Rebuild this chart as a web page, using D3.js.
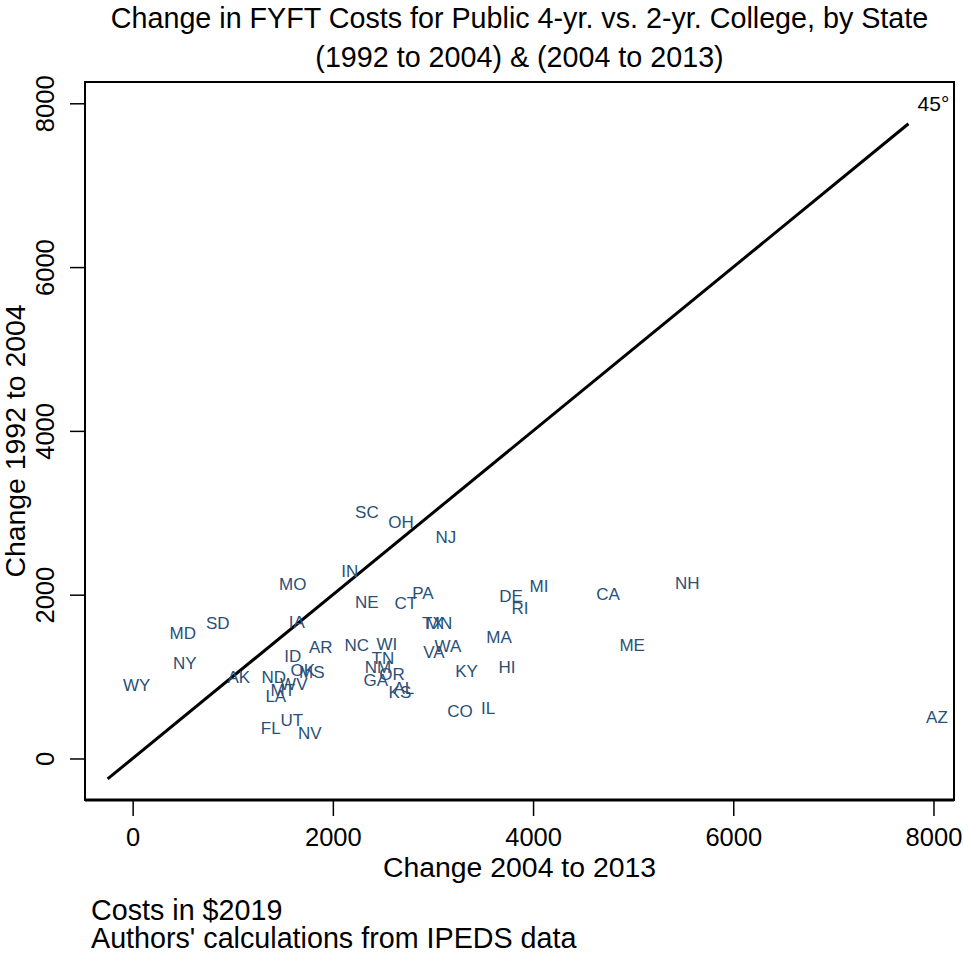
<!DOCTYPE html>
<html>
<head>
<meta charset="utf-8">
<script src="https://cdn.jsdelivr.net/npm/d3@7"></script>
<style>
html,body{margin:0;padding:0;background:#fff;}
svg{display:block;}
text{font-family:"Liberation Sans",Arial,Helvetica,sans-serif;}
</style>
</head>
<body>
<svg id="chart" width="963" height="953"></svg>
<script>
const states = ["WY","NY","MD","SD","AK","MO","IA","ID","AR","OK","MS","ND","WV","MT","LA","FL","UT","NV",
  "IN","SC","OH","NJ","NE","CT","PA","TX","MN","NC","WI","TN","NM","OR","GA","KS","AL","VA","WA","KY",
  "CO","IL","MA","HI","DE","RI","MI","CA","NH","ME","AZ"];
const change2004to2013 = [40,520,500,850,1060,1600,1640,1600,1880,1700,1790,1410,1610,1500,1430,1380,1590,1770,
  2170,2340,2680,3130,2340,2730,2900,3000,3060,2240,2540,2500,2450,2590,2430,2670,2710,3010,3150,3335,
  3270,3550,3660,3740,3780,3870,4060,4750,5540,4990,8035];
const change1992to2004 = [900,1170,1530,1650,995,2130,1665,1250,1360,1080,1055,995,910,835,765,370,470,310,
  2290,3010,2890,2705,1910,1900,2020,1655,1655,1385,1400,1225,1115,1030,960,810,860,1300,1375,1070,
  580,615,1485,1115,1985,1840,2105,2010,2145,1385,505];
const xTicks = [0,2000,4000,6000,8000];
const yTicks = [0,2000,4000,6000,8000];
const diagonal = [-250, 7750];
const titleLines = ["Change in FYFT Costs for Public 4-yr. vs. 2-yr. College, by State","(1992 to 2004) & (2004 to 2013)"];
const xLabel = "Change 2004 to 2013";
const yLabel = "Change 1992 to 2004";
const notes = ["Costs in $2019","Authors' calculations from IPEDS data"];

const svg = d3.select("#chart");
const L = 85, R = 954, T = 82, B = 800;
const x = d3.scaleLinear().domain([-476, 8205]).range([L, R]);
const y = d3.scaleLinear().domain([-507, 8260]).range([B, T]);
const labelColor = "#2a5078";

// title
svg.selectAll("text.title").data(titleLines).enter().append("text")
  .attr("class","title")
  .attr("x", (L+R)/2).attr("y", (d,i)=> 28 + i*39)
  .attr("text-anchor","middle").attr("font-size", 28.7).attr("fill","#000")
  .text(d=>d);

// diagonal 45 degree line
svg.append("line")
  .attr("x1", x(diagonal[0])).attr("y1", y(diagonal[0]))
  .attr("x2", x(diagonal[1])).attr("y2", y(diagonal[1]))
  .attr("stroke","#000").attr("stroke-width",3);
svg.append("text")
  .attr("x", x(8000)).attr("y", y(8000)).attr("dy","0.36em")
  .attr("text-anchor","middle").attr("font-size",21).attr("fill","#000")
  .text("45°");

// state labels
svg.append("g").selectAll("text").data(states).enter().append("text")
  .attr("x", (d,i)=> x(change2004to2013[i]))
  .attr("y", (d,i)=> y(change1992to2004[i]))
  .attr("dy","0.36em")
  .attr("text-anchor","middle").attr("font-size",17).attr("fill",labelColor)
  .text(d=>d);

// box
svg.append("rect").attr("x",L).attr("y",T).attr("width",R-L).attr("height",B-T)
  .attr("fill","none").attr("stroke","#000").attr("stroke-width",2);
svg.append("line").attr("x1",L).attr("x2",R).attr("y1",B).attr("y2",B)
  .attr("stroke","#000").attr("stroke-width",3);

// x axis
const xAxis = d3.axisBottom(x).tickValues(xTicks).tickSize(15).tickPadding(12).tickFormat(d3.format("d"));
const gx = svg.append("g").attr("transform",`translate(0,${B+1})`).call(xAxis);
gx.select(".domain").remove();
gx.selectAll(".tick line").attr("stroke","#000").attr("stroke-width",1.5);
gx.selectAll(".tick text").attr("font-size",25.5).attr("fill","#000")
  .attr("font-family","'Liberation Sans',Arial,Helvetica,sans-serif");

// y axis
const yAxis = d3.axisLeft(y).tickValues(yTicks).tickSize(15).tickPadding(0).tickFormat(d3.format("d"));
const gy = svg.append("g").attr("transform",`translate(${L},0)`).call(yAxis);
gy.select(".domain").remove();
gy.selectAll(".tick line").attr("stroke","#000").attr("stroke-width",1.5);
gy.selectAll(".tick text").attr("font-size",25.5).attr("fill","#000")
  .attr("font-family","'Liberation Sans',Arial,Helvetica,sans-serif")
  .attr("x",null).attr("dy",null)
  .attr("text-anchor","middle")
  .attr("transform","translate(-31,0) rotate(-90)");

// axis titles
svg.append("text").attr("x",(L+R)/2).attr("y",877).attr("text-anchor","middle")
  .attr("font-size",28.4).attr("fill","#000").text(xLabel);
svg.append("text").attr("transform",`translate(25,${(T+B)/2}) rotate(-90)`)
  .attr("text-anchor","middle").attr("font-size",28.4).attr("fill","#000").text(yLabel);

// notes
svg.selectAll("text.note").data(notes).enter().append("text")
  .attr("class","note").attr("x",91).attr("y",(d,i)=> 920 + i*28)
  .attr("font-size",28.7).attr("fill","#000").text(d=>d);
</script>
</body>
</html>
